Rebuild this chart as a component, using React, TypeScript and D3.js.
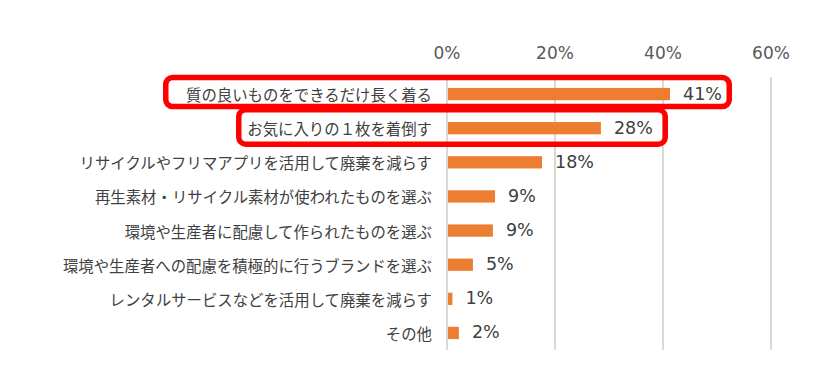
import React from "react";
import * as d3 from "d3";

const categories = [
  "質の良いものをできるだけ長く着る",
  "お気に入りの１枚を着倒す",
  "リサイクルやフリマアプリを活用して廃棄を減らす",
  "再生素材・リサイクル素材が使われたものを選ぶ",
  "環境や生産者に配慮して作られたものを選ぶ",
  "環境や生産者への配慮を積極的に行うブランドを選ぶ",
  "レンタルサービスなどを活用して廃棄を減らす",
  "その他",
];
const values = [41.3, 28.5, 17.6, 8.9, 8.5, 4.8, 1.0, 2.2];
const valueLabels = ["41%", "28%", "18%", "9%", "9%", "5%", "1%", "2%"];
const ticks = [0, 20, 40, 60];
const tickLabels = ["0%", "20%", "40%", "60%"];
const highlighted = [0, 1];

const W = 814;
const H = 380;
const FONT = "'Noto Sans CJK JP', 'Noto Sans', sans-serif";
const NUMFONT = "'DejaVu Sans', sans-serif";

export default function App() {
  const x = d3.scaleLinear().domain([0, 60]).range([447, 771]);
  const y = d3
    .scaleBand<number>()
    .domain(d3.range(categories.length))
    .range([77, 350])
    .paddingInner(0.64)
    .paddingOuter(0.32);
  const bw = y.bandwidth();
  const step = y.step();
  const bandTop = (i: number) => (y(i) as number) - (step - bw) / 2;

  const box1 = { x: 165.75, y: bandTop(0) + 0.5, w: 563.5, h: 29 };
  const box2 = { x: 238.75, y: bandTop(1) - 1.5, w: 426.5, h: 34.5 };

  return (
    <div style={{ position: "absolute", left: 0, top: 0 }}>
      <svg width={W} height={H} style={{ display: "block", background: "#fff" }}>
        {ticks.map((t, i) => (
          <g key={t}>
            <line x1={x(t)} x2={x(t)} y1={77} y2={350} stroke="#d9d9d9" strokeWidth={2} />
            <text
              x={x(t)}
              y={53}
              textAnchor="middle"
              dominantBaseline="central"
              fontFamily={NUMFONT}
              fontSize={17}
              fill="#595959"
            >
              {tickLabels[i]}
            </text>
          </g>
        ))}
        {values.map((v, i) => (
          <g key={i}>
            <rect x={x(0) + 1} y={y(i)} width={x(v) - x(0) - 1} height={bw} fill="#ed7d31" />
            <text
              x={x(v) + 13}
              y={(y(i) as number) + bw / 2 - 0.5}
              dominantBaseline="central"
              fontFamily={NUMFONT}
              fontSize={17.5}
              fill="#404040"
            >
              {valueLabels[i]}
            </text>
            <text
              x={432}
              y={(y(i) as number) + bw / 2}
              textAnchor="end"
              dominantBaseline="central"
              fontFamily={FONT}
              fontSize={15.4}
              fill="#404040"
            >
              {categories[i]}
            </text>
          </g>
        ))}
        {highlighted.length > 0 && (
          <g fill="none" stroke="#ff0000" strokeWidth={5.5}>
            <rect x={box1.x} y={box1.y} width={box1.w} height={box1.h} rx={7} />
            <rect x={box2.x} y={box2.y} width={box2.w} height={box2.h} rx={7} />
          </g>
        )}
      </svg>
    </div>
  );
}
